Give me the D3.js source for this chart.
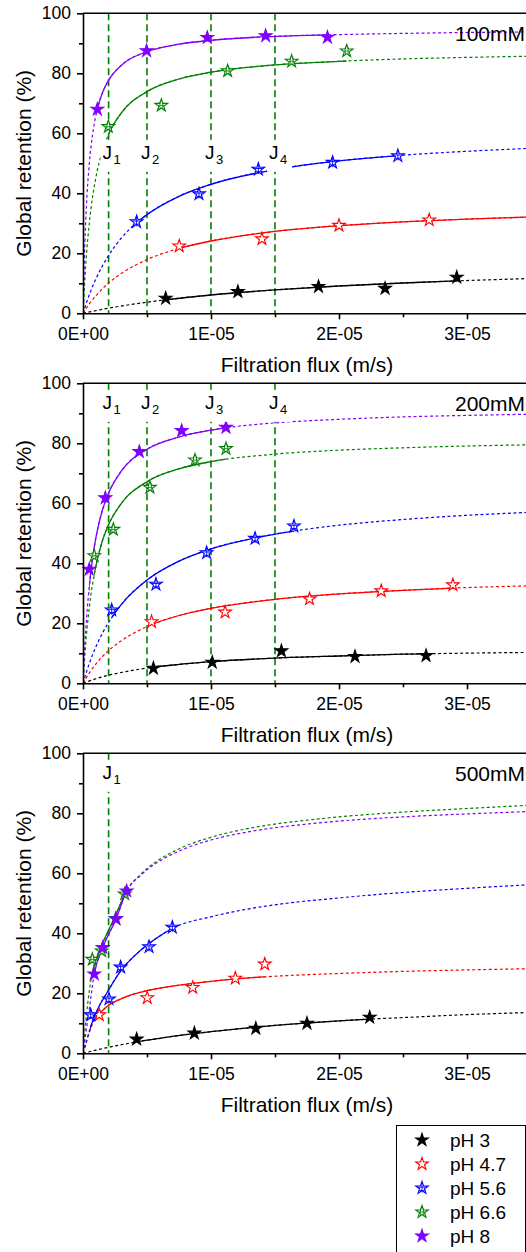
<!DOCTYPE html>
<html><head><meta charset="utf-8">
<script src="https://cdn.jsdelivr.net/npm/d3@7"></script>
<style>body{margin:0;background:#fff}svg{display:block;font-family:"Liberation Sans",Arial,sans-serif}</style>
</head><body><svg id="c" width="526" height="1252"></svg>
<script>
// ---------- data (flux in units of 1E-06 m/s, retention in %) ----------
const seriesNames = ["pH 3","pH 4.7","pH 5.6","pH 6.6","pH 8"];
const seriesColors = ["#000000","#ff0000","#0000ff","#008000","#8000ff"];
const panelNames = ["100mM","200mM","500mM"];
const xTickValues = [0,10,20,30];
const xTickLabels = ["0E+00","1E-05","2E-05","3E-05"];
const xMinorTicks = [5,15,25,35];
const yTickValues = [0,20,40,60,80,100];
const yMinorTicks = [10,30,50,70,90];
const jFlux100 = [2,5,10,15];
const jFlux200 = [2,5,10,15];
const jFlux500 = [2];
const jLabelR = [51.5,91.5,91.5];

// measured points
const pts100 = [
  [[6.46,5.0],[12.1,7.2],[18.4,8.9],[23.6,8.3],[29.2,12.0]],
  [[7.52,22.4],[13.98,24.8],[20.0,29.3],[27.05,31.1]],
  [[4.19,30.5],[9.06,39.8],[13.7,48.0],[19.5,50.3],[24.6,52.5]],
  [[1.98,62.2],[6.12,69.3],[11.3,80.8],[16.3,84.0],[20.6,87.4]],
  [[1.12,68.0],[4.97,87.5],[9.71,91.9],[14.27,92.5],[19.1,92.0]]
];
const pts200 = [
  [[5.5,5.0],[10.1,7.0],[15.5,10.8],[21.25,8.9],[26.8,9.2]],
  [[5.36,20.5],[11.1,23.7],[17.7,28.1],[23.3,30.8],[28.9,32.8]],
  [[2.24,24.4],[5.7,33.0],[9.66,43.5],[13.44,48.3],[16.48,52.4]],
  [[0.88,42.5],[2.37,51.3],[5.23,65.3],[8.75,74.4],[11.17,78.2]],
  [[0.49,38.0],[1.74,61.8],[4.4,77.2],[7.71,84.2],[11.17,85.3]]
];
const pts500 = [
  [[4.19,4.7],[8.7,6.7],[13.5,8.3],[17.5,10.0],[22.4,12.0]],
  [[1.27,12.8],[5.02,18.5],[8.57,21.9],[11.9,25.0],[14.2,29.7]],
  [[0.6,12.8],[2.03,18.1],[2.94,28.7],[5.16,35.5],[6.98,42.0]],
  [[0.73,31.3],[1.46,34.1],[2.55,44.9],[3.26,53.1]],
  [[0.88,26.4],[1.54,35.2],[2.58,44.8],[3.41,54.1]]
];

// fitted curves
const fit100 = [
  [[0,0],[2,1.7],[5,3.7],[6.46,4.5],[10,6.1],[15,7.8],[20,9.1],[25,10.1],[29.2,10.8],[35,11.6]],
  [[0,0],[0.5,3.2],[1,5.8],[2,10.1],[3,13.3],[5,17.9],[7.5,21.6],[10,24.1],[15,27.3],[20,29.2],[25,30.5],[30,31.4],[35,32.1]],
  [[0,0],[0.5,6.3],[1,11.4],[2,19.3],[3,25.1],[4.19,30.2],[5,32.9],[7.5,39.0],[10,43.0],[15,47.9],[20,50.8],[25,52.7],[30,54.0],[35,55.0]],
  [[0,0],[0.25,18.3],[0.5,30.3],[1,45.1],[1.5,53.9],[2,59.7],[3,66.8],[5,73.9],[7.5,78.1],[10,80.4],[15,82.8],[20,84.0],[25,84.8],[30,85.3],[35,85.7]],
  [[0,0],[0.1,17.4],[0.25,34.2],[0.5,50.3],[0.75,59.6],[1.12,68.0],[1.5,73.3],[2,77.7],[3,82.7],[5,87.2],[7.5,89.7],[10,91.0],[15,92.3],[20,92.9],[25,93.3],[30,93.6],[35,93.8]]
];
const fit200 = [
  [[0,0],[1,1.5],[2,2.7],[3,3.6],[5,5.1],[7.5,6.3],[10,7.2],[15,8.4],[20,9.1],[25,9.7],[30,10.05],[35,10.3]],
  [[0,0],[0.5,3.5],[1,6.4],[2,10.9],[3,14.2],[5,18.9],[7.5,22.6],[10,25.0],[15,28.0],[20,29.8],[25,31.0],[30,31.9],[35,32.5]],
  [[0,0],[0.5,6.7],[1,12.1],[2,20.3],[3,26.3],[5,34.4],[7.5,40.7],[10,44.8],[15,49.7],[20,52.7],[25,54.6],[30,56.0],[35,57.0]],
  [[0,0],[0.25,15.2],[0.5,25.6],[0.88,36.4],[1.5,47.3],[2,52.9],[3,60.0],[5,67.2],[7.5,71.5],[10,73.9],[15,76.4],[20,77.7],[25,78.5],[30,79.1],[35,79.5]],
  [[0,0],[0.15,13.1],[0.3,23.0],[0.49,32.4],[0.75,41.8],[1,48.4],[1.5,57.5],[2,63.4],[3,70.8],[5,78.0],[7.5,82.1],[10,84.4],[15,86.8],[20,88.0],[25,88.8],[30,89.3],[35,89.7]]
];
const fit500 = [
  [[0,0],[1,1.05],[2,2.0],[4.19,3.8],[6,5.0],[8,6.2],[10,7.2],[12.5,8.3],[15,9.3],[17.5,10.1],[20,10.8],[22.4,11.4],[25,11.9],[30,12.9],[35,13.6]],
  [[0,0],[0.3,4.5],[0.6,8.2],[1,12.0],[1.5,14.2],[2,16.0],[3,18.2],[4,19.8],[5,20.9],[7.5,22.7],[10,24.0],[12.5,25.0],[14.2,25.5],[17.5,26.2],[20,26.6],[25,27.3],[30,27.8],[35,28.2]],
  [[0,0],[0.25,3.5],[0.52,7.8],[1,13.3],[2,21.1],[3,27.8],[4,32.4],[5,36.1],[6,39.1],[7,41.7],[10,45.5],[12.5,47.8],[15,49.5],[20,51.8],[25,53.6],[30,55.0],[35,56.2]],
  [[0,0],[0.25,12],[0.5,21],[0.73,27],[1,31],[1.5,36.5],[2,41],[2.5,45.5],[3,50.5],[3.5,54.7],[4.5,59.6],[5,61.6],[6,64.7],[7,67.1],[8,69.1],[10,72.0],[12.5,74.6],[15,76.4],[17.5,77.7],[20,78.8],[25,80.4],[30,81.6],[35,82.7]],
  [[0,0],[0.25,7.5],[0.5,15.0],[0.88,26.4],[1.54,35.2],[2.58,44.8],[3.41,54.1],[4.5,59.3],[5,61.2],[6,64.1],[7,66.4],[8,68.3],[10,71.1],[12.5,73.5],[15,75.2],[17.5,76.4],[20,77.4],[25,78.8],[30,79.8],[35,80.6]]
];
// solid (fitted-range) span of each curve
const solid100 = [[6.46,29.2],[7.52,35],[4.19,24.6],[1.98,20.6],[1.12,19.1]];
const solid200 = [[5.5,26.8],[5.36,28.9],[2.24,16.48],[0.88,11.17],[0.49,11.17]];
const solid500 = [[4.19,22.4],[0.95,14.2],[0.52,6.98],[0.73,3.26],[0.88,3.41]];

// ---------- drawing ----------
const svg = d3.select("#c");
const left = 83, right = 531, plotH = 300;
const panelTops = [13.3, 383.3, 753.3];
const panels = [
  {pts:pts100, fit:fit100, solid:solid100, j:jFlux100},
  {pts:pts200, fit:fit200, solid:solid200, j:jFlux200},
  {pts:pts500, fit:fit500, solid:solid500, j:jFlux500}
];
const x = d3.scaleLinear().domain([0,35]).range([left,right]);
const starD = d3.symbol(d3.symbolStar, 50)();

function marker(g, i, cx, cy){
  const c = seriesColors[i];
  const m = g.append("g").attr("transform",`translate(${cx},${cy})`);
  const filled = (i===0 || i===4);
  m.append("path").attr("d",starD).attr("fill",filled?c:"#fff")
    .attr("stroke",c).attr("stroke-width",1.1).attr("stroke-linejoin","miter");
  if(i===2){
    m.append("path").attr("d","M-4.5,-0.8H4.5M0,-6V4.5M-2.8,2.4H2.8")
      .attr("stroke",c).attr("stroke-width",0.9).attr("fill","none");
  }
  if(i===3){
    m.append("path").attr("d","M-1.4,-3.8V3.9M1.4,-3.8V3.9M-2.7,0H2.7")
      .attr("stroke",c).attr("stroke-width",0.8).attr("fill","none");
  }
}

panels.forEach((p,pi)=>{
  const top = panelTops[pi], bottom = top+plotH;
  const y = d3.scaleLinear().domain([0,100]).range([bottom,top]);
  const g = svg.append("g");
  const clipId = "clip"+pi;
  svg.append("defs").append("clipPath").attr("id",clipId)
    .append("rect").attr("x",left).attr("y",top).attr("width",right-left).attr("height",plotH);

  // J vertical lines
  p.j.forEach(jv=>{
    g.append("line").attr("x1",x(jv)).attr("x2",x(jv)).attr("y1",y(100)).attr("y2",y(0))
      .attr("stroke","#008000").attr("stroke-width",1.6).attr("stroke-dasharray","7,4");
  });

  const line = d3.line().x(d=>x(d[0])).y(d=>y(d[1])).curve(d3.curveMonotoneX);
  // curves
  p.fit.forEach((f,i)=>{
    const c = seriesColors[i];
    g.append("path").attr("d",line(f)).attr("fill","none").attr("stroke",c)
      .attr("stroke-width",1.2).attr("stroke-dasharray","3,2.5").attr("clip-path",`url(#${clipId})`);
    const sid = `s${pi}_${i}`;
    svg.append("defs").append("clipPath").attr("id",sid).append("rect")
      .attr("x",x(p.solid[i][0])).attr("y",top-5)
      .attr("width",x(p.solid[i][1])-x(p.solid[i][0])).attr("height",plotH+10);
    g.append("path").attr("d",line(f)).attr("fill","none").attr("stroke",c)
      .attr("stroke-width",1.3).attr("clip-path",`url(#${sid})`);
  });
  // markers
  p.pts.forEach((s,i)=>{
    s.forEach(d=>marker(g,i,x(d[0]),y(d[1])));
  });

  // J labels with white background
  p.j.forEach((jv,k)=>{
    const bx = x(jv)-6, by = y(jLabelR[pi]);
    g.append("rect").attr("x",bx-2).attr("y",by-19).attr("width",25).attr("height",32).attr("fill","#fff");
    const t = g.append("text").attr("x",bx).attr("y",by).attr("font-size",19).attr("fill","#000");
    t.append("tspan").text("J");
    t.append("tspan").attr("font-size",13).attr("dx",1.5).attr("dy",5).text(String(k+1));
  });

  // frame top line
  g.append("line").attr("x1",left).attr("x2",right).attr("y1",top).attr("y2",top)
    .attr("stroke","#000").attr("stroke-width",1.6);

  // axes
  g.append("g").attr("transform",`translate(${left},0)`)
    .call(d3.axisLeft(y).tickValues(yTickValues).tickSize(6).tickSizeOuter(0).tickPadding(6));
  g.append("g").attr("transform",`translate(${left},0)`)
    .call(d3.axisLeft(y).tickValues(yMinorTicks).tickSize(4).tickSizeOuter(0).tickFormat(""))
    .select(".domain").remove();
  g.append("g").attr("transform",`translate(0,${bottom})`)
    .call(d3.axisBottom(x).tickValues(xTickValues).tickSize(6).tickSizeOuter(0).tickPadding(8)
      .tickFormat((d,k)=>xTickLabels[k]));
  g.append("g").attr("transform",`translate(0,${bottom})`)
    .call(d3.axisBottom(x).tickValues(xMinorTicks).tickSize(4).tickSizeOuter(0).tickFormat(""))
    .select(".domain").remove();
  g.selectAll(".domain, .tick line").attr("stroke","#000").attr("stroke-width",1.6);
  g.selectAll(".tick text").attr("font-size",17.5).attr("fill","#000")
    .attr("font-family",'"Liberation Sans",Arial,sans-serif');

  // titles
  g.append("text").attr("x",(left+right)/2).attr("y",bottom+59).attr("text-anchor","middle")
    .attr("font-size",21).text("Filtration flux (m/s)");
  g.append("text").attr("transform",`translate(30.5,${(top+bottom)/2}) rotate(-90)`)
    .attr("text-anchor","middle").attr("font-size",21).text("Global retention (%)");
  g.append("text").attr("x",525).attr("y",top+28).attr("text-anchor","end")
    .attr("font-size",21).text(panelNames[pi]);
});

// legend
const lg = svg.append("g");
lg.append("rect").attr("x",396.5).attr("y",1125.5).attr("width",129).attr("height",140)
  .attr("fill","#fff").attr("stroke","#000").attr("stroke-width",1);
seriesNames.forEach((n,i)=>{
  const cy = 1140 + i*24;
  marker(lg,i,422,cy);
  lg.append("text").attr("x",450).attr("y",cy+6.5).attr("font-size",19).text(n);
});
</script></body></html>
